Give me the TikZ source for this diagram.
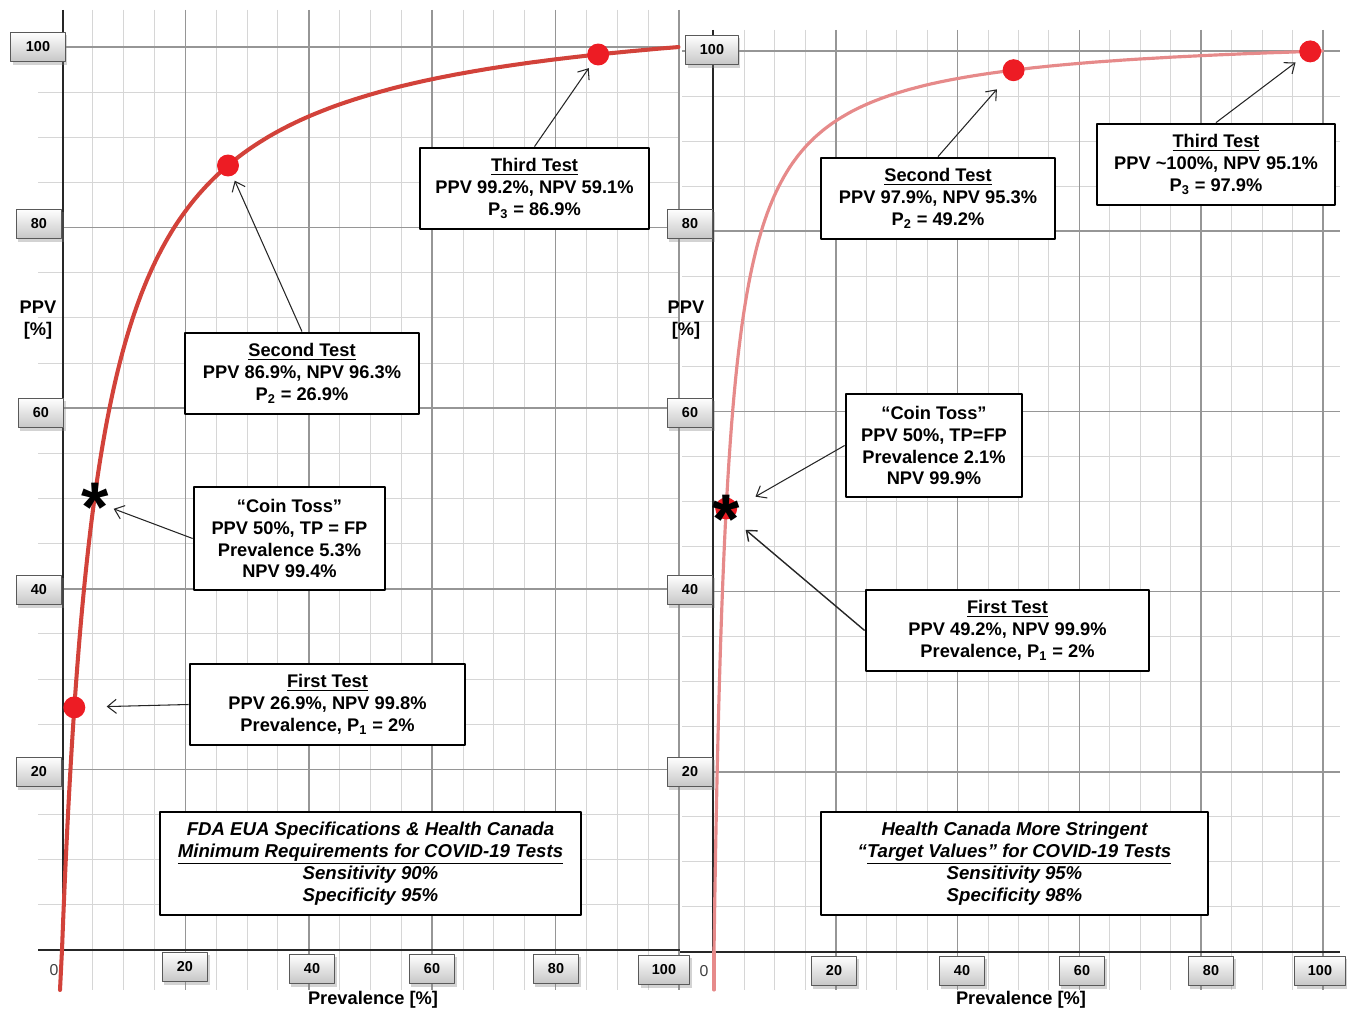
\documentclass[tikz,border=0pt]{standalone}
\usepackage{fontspec}
\setmainfont{Liberation Sans}
\usepackage{xcolor}
\usepackage{tikz}
\usetikzlibrary{arrows.meta,shadows}

\definecolor{dotred}{RGB}{237,28,36}
\definecolor{curveleft}{RGB}{210,66,58}
\definecolor{curveright}{RGB}{230,138,138}
\definecolor{gridminor}{RGB}{214,214,214}
\definecolor{gridmajor}{RGB}{150,150,150}

\tikzset{
  minorgrid/.style={color=gridminor,line width=0.6pt},
  majorgrid/.style={color=gridmajor,line width=0.9pt},
  axisline/.style={black!85,line width=1.1pt},
  tickbox/.style={draw=gray!70!black,line width=0.5pt,top color=white,bottom color=gray!45,
    font=\fontsize{8.2}{9}\selectfont\bfseries,minimum width=26pt,minimum height=17pt,inner sep=1pt,
    drop shadow={shadow xshift=1.2pt,shadow yshift=-1.5pt,opacity=0.35}},
  infobox/.style={draw=black,line width=1.6pt,fill=white,align=center,
    font=\fontsize{10.4}{12.5}\selectfont\bfseries,minimum height=1.62cm,inner sep=2pt},
  specbox/.style={infobox,font=\fontsize{10.6}{12.5}\selectfont\bfseries\itshape,minimum height=2.06cm},
  dot/.style={circle,fill=dotred,inner sep=0pt,minimum size=12.5pt},
  coinmark/.style={font=\fontsize{40}{40}\selectfont\bfseries,inner sep=0pt,text height=34.3pt,text depth=-22.7pt,yshift=-2.8pt},
  pointer/.style={->,line width=0.6pt,black!85,shorten >=3pt},
  axislabel/.style={font=\fontsize{10.4}{12.5}\selectfont\bfseries,align=center},
  zerolabel/.style={font=\fontsize{9}{10}\selectfont,black!75},
  curveL/.style={curveleft,line width=2.3pt,line cap=round},
  curveR/.style={curveright,line width=1.8pt,line cap=round},
}

\begin{document}
\begin{tikzpicture}[line join=round,>={Straight Barb[length=5pt,width=8pt]},x=0.02cm,y=-0.02cm]
		\useasboundingbox (0,0) rectangle (1347,1010);
		% left grid
		\foreach \k in {1,...,20}{
			\draw[minorgrid] ({62+30.85*\k},10) -- ({62+30.85*\k},990);
			\draw[minorgrid] (38,{950-45.15*\k}) -- (680,{950-45.15*\k});
		}
		\foreach \k in {4,8,...,20}{
			\draw[majorgrid] ({62+30.85*\k},10) -- ({62+30.85*\k},990);
			\draw[majorgrid] (38,{950-45.15*\k}) -- (680,{950-45.15*\k});
		}
		% right grid
		\foreach \k in {1,...,20}{
			\draw[minorgrid] ({714+30.45*\k},30) -- ({714+30.45*\k},990);
			\draw[minorgrid] (682,{952-45.05*\k}) -- (1340,{952-45.05*\k});
		}
		\foreach \k in {4,8,...,20}{
			\draw[majorgrid] ({714+30.45*\k},30) -- ({714+30.45*\k},990);
			\draw[majorgrid] (682,{952-45.05*\k}) -- (1340,{952-45.05*\k});
		}
		\draw[axisline] (63,10) -- (63,950);
		\draw[axisline] (38,950) -- (680,950);
		\draw[axisline] (713,30) -- (713,952);
		\draw[axisline] (680,952) -- (1340,952);

		% PPV curves
		\draw[curveL] plot[domain=0:1,samples=160,variable=\t] ({62+617*\t*\t},{950-812.7*\t*\t/(0.85*\t*\t+0.05)});
		\draw[curveL] (62,950) -- (60,990);
		\draw[curveR] plot[domain=0:1,samples=160,variable=\t] ({714+609*\t*\t},{952-855.95*\t*\t/(0.93*\t*\t+0.02)});
		\draw[curveR] (714,952) -- (714,990);

		% tick labels
		\node[tickbox,minimum width=31pt] (y100L) at (38,47) {100};
		\node[tickbox] (y80L) at (39,224) {80};
		\node[tickbox] (y60L) at (41,413) {60};
		\node[tickbox] (y40L) at (39,590) {40};
		\node[tickbox] (y20L) at (39,772) {20};
		\node[tickbox] (x20L) at (185,967) {20};
		\node[tickbox] (x40L) at (312,969) {40};
		\node[tickbox] (x60L) at (432,969) {60};
		\node[tickbox] (x80L) at (556,969) {80};
		\node[tickbox,minimum width=29pt] (x100L) at (664,970) {100};
		\node[zerolabel] (x0L) at (54,970) {0};
		\node[tickbox,minimum width=30pt] (y100R) at (712,50) {100};
		\node[tickbox] (y80R) at (690,224) {80};
		\node[tickbox] (y60R) at (690,413) {60};
		\node[tickbox] (y40R) at (690,590) {40};
		\node[tickbox] (y20R) at (690,772) {20};
		\node[tickbox] (x20R) at (834,971) {20};
		\node[tickbox] (x40R) at (962,971) {40};
		\node[tickbox] (x60R) at (1082,971) {60};
		\node[tickbox] (x80R) at (1211,971) {80};
		\node[tickbox,minimum width=29pt] (x100R) at (1320,971) {100};
		\node[zerolabel] (x0R) at (704,971) {0};

		\node[axislabel] (ppvL) at (38,320) {PPV\\{[\%]}};
		\node[axislabel] (ppvR) at (686,320) {PPV\\{[\%]}};
		\node[axislabel] (prevL) at (373,1000) {Prevalence [\%]};
		\node[axislabel] (prevR) at (1021,1000) {Prevalence [\%]};

		% points on the curves
		\node[dot] (dot1L) at (74.3,707.4) {};
		\node[dot] (dot2L) at (228,165.5) {};
		\node[dot] (dot3L) at (598.2,54.5) {};
		\node[coinmark] (coinL) at (94.7,496.8) {*};
		\node[dot] (dot1R) at (726.2,508.5) {};
		\node[dot] (dot2R) at (1013.6,70.2) {};
		\node[dot] (dot3R) at (1310.2,51.4) {};
		\node[coinmark] (coinR) at (726.2,508.5) {*};

		% boxes, left
		\node[infobox,minimum width=4.58cm] (thirdL) at (534.5,188.5) {\underline{Third Test}\\PPV 99.2\%, NPV 59.1\%\\P\textsubscript{3} = 86.9\%};
		\node[infobox,minimum width=4.68cm] (secondL) at (302,373.5) {\underline{Second Test}\\PPV 86.9\%, NPV 96.3\%\\P\textsubscript{2} = 26.9\%};
		\node[infobox,minimum width=3.82cm,minimum height=2.06cm] (tossL) at (289.5,538.5) {“Coin Toss”\\PPV 50\%, TP = FP\\Prevalence 5.3\%\\NPV 99.4\%};
		\node[infobox,minimum width=5.5cm] (firstL) at (327.5,704.5) {\underline{First Test}\\PPV 26.9\%, NPV 99.8\%\\Prevalence, P\textsubscript{1} = 2\%};
		\node[specbox,minimum width=8.42cm] (specL) at (370.5,863.5) {FDA EUA Specifications \& Health Canada\\\underline{Minimum Requirements for COVID-19 Tests}\\Sensitivity 90\%\\Specificity 95\%};
		% boxes, right
		\node[infobox,minimum width=4.68cm] (secondR) at (938,198.5) {\underline{Second Test}\\PPV 97.9\%, NPV 95.3\%\\P\textsubscript{2} = 49.2\%};
		\node[infobox,minimum width=4.76cm] (thirdR) at (1216,164.5) {\underline{Third Test}\\PPV \textasciitilde100\%, NPV 95.1\%\\P\textsubscript{3} = 97.9\%};
		\node[infobox,minimum width=3.52cm,minimum height=2.06cm] (tossR) at (934,445.5) {“Coin Toss”\\PPV 50\%, TP=FP\\Prevalence 2.1\%\\NPV 99.9\%};
		\node[infobox,minimum width=5.66cm] (firstR) at (1007.5,630.5) {\underline{First Test}\\PPV 49.2\%, NPV 99.9\%\\Prevalence, P\textsubscript{1} = 2\%};
		\node[specbox,minimum width=7.74cm] (specR) at (1014.5,863.5) {Health Canada More Stringent\\“\underline{Target Values” for COVID-19 Tests}\\Sensitivity 95\%\\Specificity 98\%};

		% arrows
		\draw[pointer] (thirdL.north) -- (dot3L);
		\draw[pointer] (secondL.north) -- (dot2L);
		\draw[pointer] (tossL.west) -- (coinL);
		\draw[pointer,shorten >=12pt] (firstL.west) -- (dot1L);
		\draw[pointer,shorten >=8pt] (secondR.north) -- (dot2R);
		\draw[pointer,shorten >=4pt] (thirdR.north) -- (dot3R);
		\draw[pointer,shorten >=10pt] (tossR.west) -- (coinR);
		\draw[pointer,line width=0.8pt,shorten >=4pt] (firstR.west) -- (coinR);
	\end{tikzpicture}
\end{document}
